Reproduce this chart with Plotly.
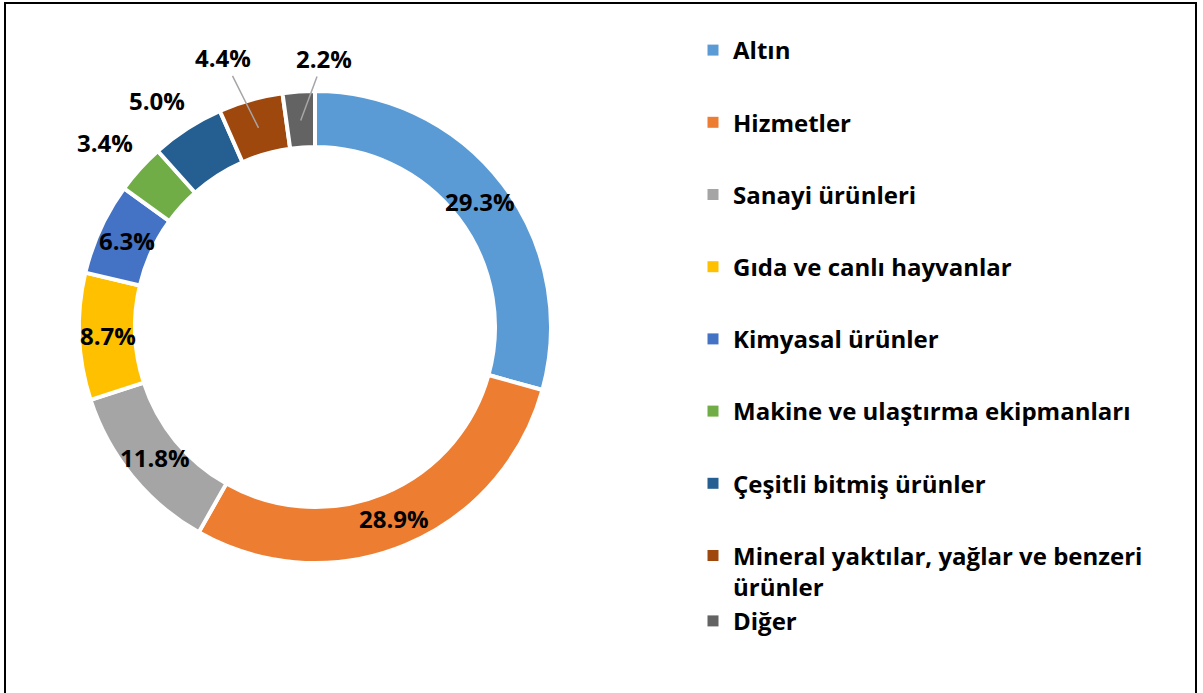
import math
import plotly.graph_objects as go

categories = ["Altın", "Hizmetler", "Sanayi ürünleri", "Gıda ve canlı hayvanlar",
              "Kimyasal ürünler", "Makine ve ulaştırma ekipmanları",
              "Çeşitli bitmiş ürünler", "Mineral yaktılar, yağlar ve benzeri ürünler", "Diğer"]
legend_labels = ["Altın", "Hizmetler", "Sanayi ürünleri", "Gıda ve canlı hayvanlar",
                 "Kimyasal ürünler", "Makine ve ulaştırma ekipmanları",
                 "Çeşitli bitmiş ürünler", "Mineral yaktılar, yağlar ve benzeri<br>ürünler", "Diğer"]
values = [29.3, 28.9, 11.8, 8.7, 6.3, 3.4, 5.0, 4.4, 2.2]
colors = ["#5B9BD5", "#ED7D31", "#A5A5A5", "#FFC000", "#4472C4",
          "#70AD47", "#255E91", "#9E480E", "#636363"]

W, H = 1203, 693
FONT = "Open Sans"
FS = 24

# pie geometry in pixels
cx, cy, R_out, R_in = 315, 327, 236, 180
label_mode = ["in", "in", "in", "in", "in", "out", "out", "leader", "leader"]
leader_offsets = {7: (-35, -70), 8: (23, -62)}
outside_nudge = {5: (-5, 1), 6: (-8, 6)}

fig = go.Figure()
fig.add_trace(go.Pie(
    labels=categories, values=values, sort=False, direction="clockwise",
    rotation=0, hole=R_in / R_out, textinfo="none", showlegend=False,
    marker=dict(colors=colors, line=dict(color="white", width=4)),
    domain=dict(x=[(cx - R_out) / W, (cx + R_out) / W],
                y=[1 - (cy + R_out) / H, 1 - (cy - R_out) / H]),
    hoverinfo="label+percent",
))

# legend via dummy traces so spacing matches
for i, (lab, col) in enumerate(zip(legend_labels, colors)):
    grp = "g7" if i == 8 else f"g{i}"
    fig.add_trace(go.Scatter(x=[None], y=[None], mode="markers", name=lab,
                             legendgroup=grp,
                             marker=dict(symbol="square", size=11, color=col)))

total = sum(values)
cum = 0
annotations = []
r_mid = (R_out + R_in) / 2 - 1
for i, v in enumerate(values):
    mid = (cum + v / 2) / total * 2 * math.pi
    cum += v
    txt = f"<b>{v:.1f}%</b>"
    mode = label_mode[i]
    fnt = dict(family=FONT, size=FS, color="black")
    if mode in ("in", "out"):
        r = r_mid if mode == "in" else 277
        px, py = cx + r * math.sin(mid), cy - r * math.cos(mid)
        if mode == "out":
            dx, dy = outside_nudge.get(i, (0, 0))
            px, py = px + dx, py + dy
        annotations.append(dict(x=px / W, y=1 - py / H, xref="paper", yref="paper",
                                xanchor="center", yanchor="middle",
                                text=txt, showarrow=False, font=fnt))
    else:
        px, py = cx + r_mid * math.sin(mid), cy - r_mid * math.cos(mid)
        ax, ay = leader_offsets[i]
        annotations.append(dict(x=px / W, y=1 - py / H, xref="paper", yref="paper",
                                text=txt, showarrow=True, arrowhead=0,
                                arrowwidth=1.5, arrowcolor="#A6A6A6", ax=ax, ay=ay,
                                font=fnt))

fig.update_layout(
    width=W, height=H, margin=dict(l=0, r=0, t=0, b=0),
    paper_bgcolor="white", plot_bgcolor="white",
    xaxis=dict(visible=False), yaxis=dict(visible=False),
    font=dict(family=FONT, size=FS, color="black"),
    annotations=annotations,
    legend=dict(x=693 / W, y=1 - 28 / H, xanchor="left", yanchor="top", valign="top",
                tracegroupgap=38, font=dict(family=FONT, size=FS, color="black", weight="bold"),
                bgcolor="rgba(0,0,0,0)"),
    shapes=[dict(type="rect", xref="paper", yref="paper",
                 x0=5 / W, x1=1196 / W, y0=-0.01, y1=1 - 3 / H,
                 line=dict(color="black", width=2), fillcolor="rgba(0,0,0,0)")],
)

fig.write_html("out.html", config={"displayModeBar": False},
               post_script="document.body.style.margin='0';document.body.style.overflow='hidden';")
